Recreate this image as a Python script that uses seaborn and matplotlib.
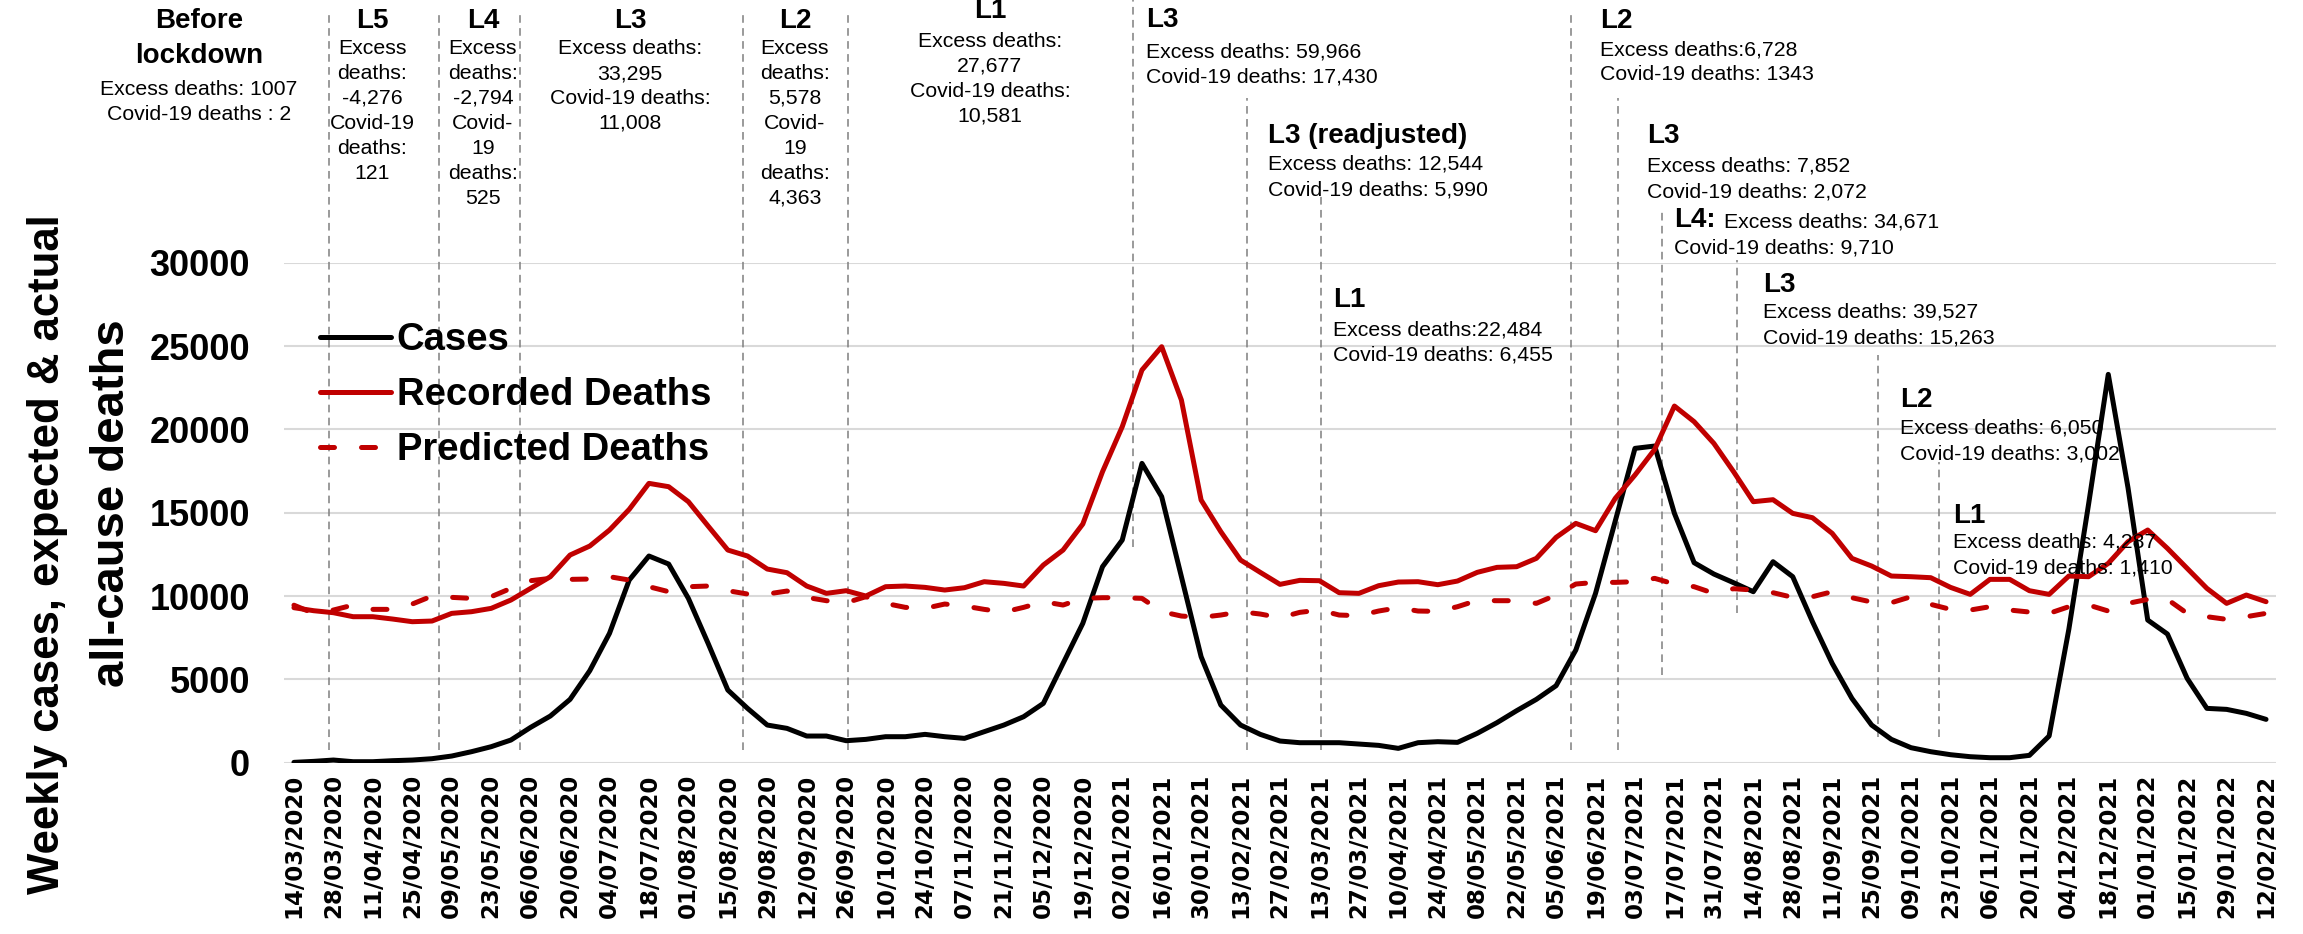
import numpy as np
import pandas as pd
import matplotlib
matplotlib.use('Agg')
import matplotlib.pyplot as plt
import seaborn as sns

# weekly series, 14/03/2020 .. 12/02/2022
weeks = pd.date_range('2020-03-14', '2022-02-12', freq='7D')

cases = [20, 80, 160, 60, 60, 120, 160, 240, 400, 660,
         960, 1360, 2120, 2800, 3800, 5520, 7760, 10960, 12400, 11920,
         9860, 7160, 4360, 3260, 2260, 2060, 1600, 1600, 1320, 1400,
         1560, 1560, 1700, 1560, 1460, 1860, 2260, 2760, 3560, 5960,
         8360, 11760, 13360, 17960, 15960, 11160, 6360, 3460, 2260, 1700,
         1300, 1200, 1200, 1200, 1120, 1040, 860, 1200, 1260, 1220,
         1760, 2400, 3120, 3800, 4620, 6760, 10160, 14500, 18860, 19000,
         14960, 12000, 11320, 10800, 10260, 12060, 11160, 8460, 5960, 3860,
         2260, 1400, 900, 660, 480, 360, 300, 300, 440, 1600,
         8000, 15500, 23300, 16500, 8560, 7720, 5060, 3260, 3200, 2960,
         2600]

recorded = [9300, 9120, 9000, 8760, 8760, 8620, 8460, 8500, 8960, 9060,
            9260, 9760, 10460, 11160, 12460, 13000, 13960, 15200, 16760, 16560,
            15660, 14200, 12760, 12400, 11620, 11400, 10600, 10160, 10320, 10000,
            10560, 10600, 10520, 10360, 10500, 10860, 10760, 10600, 11860, 12760,
            14320, 17460, 20160, 23560, 24960, 21760, 15760, 13860, 12160, 11420,
            10700, 10940, 10920, 10200, 10160, 10620, 10840, 10860, 10680, 10900,
            11420, 11720, 11760, 12260, 13520, 14360, 13920, 15860, 17260, 18800,
            21400, 20460, 19160, 17460, 15660, 15780, 14960, 14700, 13760, 12260,
            11800, 11200, 11160, 11100, 10520, 10100, 11000, 11000, 10320, 10100,
            11200, 11160, 11960, 13260, 13960, 12860, 11660, 10460, 9560, 10060,
            9660]

predicted = [9450, 8960, 9160, 9460, 9200, 9200, 9520, 10000, 9920, 9860,
             9960, 10460, 10920, 11060, 11000, 11020, 11160, 10960, 10560, 10260,
             10560, 10600, 10320, 10120, 10120, 10300, 9920, 9720, 9600, 9960,
             9560, 9320, 9260, 9520, 9400, 9200, 9040, 9320, 9660, 9460,
             9860, 9900, 9900, 9860, 9060, 8800, 8720, 8860, 9060, 8920,
             8700, 9020, 9160, 8860, 8820, 9100, 9300, 9100, 9080, 9360,
             9740, 9720, 9720, 9560, 10060, 10720, 10820, 10820, 10860, 11060,
             10720, 10560, 10160, 10440, 10360, 10200, 9920, 9960, 10260, 9900,
             9640, 9600, 9960, 9500, 9200, 9160, 9360, 9160, 9040, 8960,
             9360, 9460, 9100, 9560, 9800, 9800, 8960, 8760, 8600, 8760,
             8960]

tick_labels = weeks[::2].strftime('%d/%m/%Y')

# lockdown level change markers (week position, top px, bottom px)
level_lines = [(1.77, 13, 750), (7.35, 13, 750), (11.48, 13, 750), (22.79, 13, 750),
               (28.11, 13, 750), (42.53, 0, 547), (48.32, 98, 750), (52.08, 193, 750),
               (64.78, 15, 750), (67.16, 98, 750), (69.37, 210, 675), (73.17, 260, 613),
               (80.32, 355, 737), (83.42, 462, 737)]

# centred blocks at the top: x px, title, title baseline, body lines, first body baseline
top_blocks = [
    (199, ['Before', 'lockdown'], 28, ['Excess deaths: 1007', 'Covid-19 deaths : 2'], 95),
    (372, ['L5'], 28, ['Excess', 'deaths:', '-4,276', 'Covid-19', 'deaths:', '121'], 54),
    (483, ['L4'], 28, ['Excess', 'deaths:', '-2,794', 'Covid-', '19', 'deaths:', '525'], 54),
    (630, ['L3'], 28, ['Excess deaths:', '33,295', 'Covid-19 deaths:', '11,008'], 54),
    (795, ['L2'], 28, ['Excess', 'deaths:', '5,578', 'Covid-', '19', 'deaths:', '4,363'], 54),
    (990, ['L1'], 18, ['Excess deaths:', '27,677', 'Covid-19 deaths:', '10,581'], 47),
]

# left aligned blocks in 2021
side_blocks = [
    (1146, 'L3', 27, ['Excess deaths: 59,966', 'Covid-19 deaths: 17,430'], 57),
    (1268, 'L3 (readjusted)', 143, ['Excess deaths: 12,544', 'Covid-19 deaths: 5,990'], 170),
    (1333, 'L1', 307, ['Excess deaths:22,484', 'Covid-19 deaths: 6,455'], 335),
    (1600, 'L2', 28, ['Excess deaths:6,728', 'Covid-19 deaths: 1343'], 55),
    (1647, 'L3', 143, ['Excess deaths: 7,852', 'Covid-19 deaths: 2,072'], 172),
    (1763, 'L3', 292, ['Excess deaths: 39,527', 'Covid-19 deaths: 15,263'], 318),
    (1900, 'L2', 407, ['Excess deaths: 6,050', 'Covid-19 deaths: 3,002'], 434),
    (1953, 'L1', 523, ['Excess deaths: 4,287', 'Covid-19 deaths: 1,410'], 548),
]

df = pd.DataFrame({'week': np.arange(len(weeks)), 'Cases': cases,
                   'Recorded Deaths': recorded, 'Predicted Deaths': predicted})

sns.set_style('white')
plt.rcParams['font.family'] = ['Liberation Sans', 'DejaVu Sans']
plt.rcParams['text.color'] = 'black'
plt.rcParams['xtick.color'] = 'black'
plt.rcParams['ytick.color'] = 'black'
plt.rcParams['xtick.labelcolor'] = 'black'
plt.rcParams['ytick.labelcolor'] = 'black'

W, H = 2303, 934
fig = plt.figure(figsize=(W / 100, H / 100), dpi=100)
ax = fig.add_axes([284.1 / W, 1 - 762.7 / H, 1991.8 / W, 500 / H])


def fx(x):
    return x / W


def fy(y):
    return 1 - y / H


def px_to_val(y):
    return (762.7 - y) * 60


red = '#C00000'
sns.lineplot(data=df, x='week', y='Cases', color='black', lw=3.6, label='Cases', ax=ax)
sns.lineplot(data=df, x='week', y='Recorded Deaths', color=red, lw=3.6,
             label='Recorded Deaths', ax=ax)
sns.lineplot(data=df, x='week', y='Predicted Deaths', color=red, lw=3.6,
             linestyle=(0, (2.8, 5.4)), dash_capstyle='round',
             label='Predicted Deaths', ax=ax)

for k, top, bot in level_lines:
    ax.plot([k, k], [px_to_val(bot), px_to_val(top)], color='#7f7f7f', lw=1.1,
            linestyle=(0, (5, 3.5)), clip_on=False, zorder=1.5)

ax.set_xlim(-0.5, 100.5)
ax.set_ylim(0, 30000)
ax.set_yticks(range(0, 30001, 5000))
ax.set_xticks(range(0, 101, 2))
ax.set_xticklabels(tick_labels, rotation=90, fontfamily='DejaVu Sans',
                   fontweight='bold', fontsize=16.5, color='black')
ax.set_yticklabels([str(v) for v in range(0, 30001, 5000)], fontweight='bold',
                   fontsize=26, color='black')
ax.tick_params(axis='x', length=0, pad=8)
ax.tick_params(axis='y', length=0, pad=24.5)
ax.set_xlabel('')
ax.set_ylabel('')
ax.yaxis.grid(True, color='#d9d9d9', lw=1.5)
ax.set_axisbelow(True)
sns.despine(ax=ax, left=True, bottom=True)

leg = ax.legend(loc='upper left', bbox_to_anchor=(fx(320), fy(322)),
                bbox_transform=fig.transFigure, frameon=False, borderpad=0,
                borderaxespad=0, handlelength=1.85, handletextpad=0.16, labelspacing=0.5,
                prop={'family': 'Liberation Sans', 'weight': 'bold', 'size': 27.5})
for t in leg.get_texts():
    t.set_color('black')

fig.text(fx(48), fy(554), 'Weekly cases, expected & actual', rotation=90,
         ha='center', va='center', fontsize=31.5, fontweight='bold', color='black')
fig.text(fx(112), fy(503), 'all-cause deaths', rotation=90,
         ha='center', va='center', fontsize=34, fontweight='bold', color='black')

for x, titles, tb, body, bb in top_blocks:
    for i, t in enumerate(titles):
        fig.text(fx(x), fy(tb + 35 * i), t, ha='center', va='baseline',
                 fontsize=20, fontweight='bold')
    for i, t in enumerate(body):
        fig.text(fx(x), fy(bb + 25 * i), t, ha='center', va='baseline', fontsize=15.3)

for x, title, tb, body, bb in side_blocks:
    fig.text(fx(x), fy(tb), title, ha='left', va='baseline', fontsize=20, fontweight='bold')
    for i, t in enumerate(body):
        fig.text(fx(x), fy(bb + 25.5 * i), t, ha='left', va='baseline', fontsize=15.3)

# L4 (2021) block: bold label on the same line as the first figure
fig.text(fx(1674), fy(227), 'L4:', ha='left', va='baseline', fontsize=20, fontweight='bold')
fig.text(fx(1724), fy(227), 'Excess deaths: 34,671', ha='left', va='baseline', fontsize=15.3)
fig.text(fx(1674), fy(253), 'Covid-19 deaths: 9,710', ha='left', va='baseline', fontsize=15.3)

fig.savefig('out.png', dpi=100, facecolor='white')
